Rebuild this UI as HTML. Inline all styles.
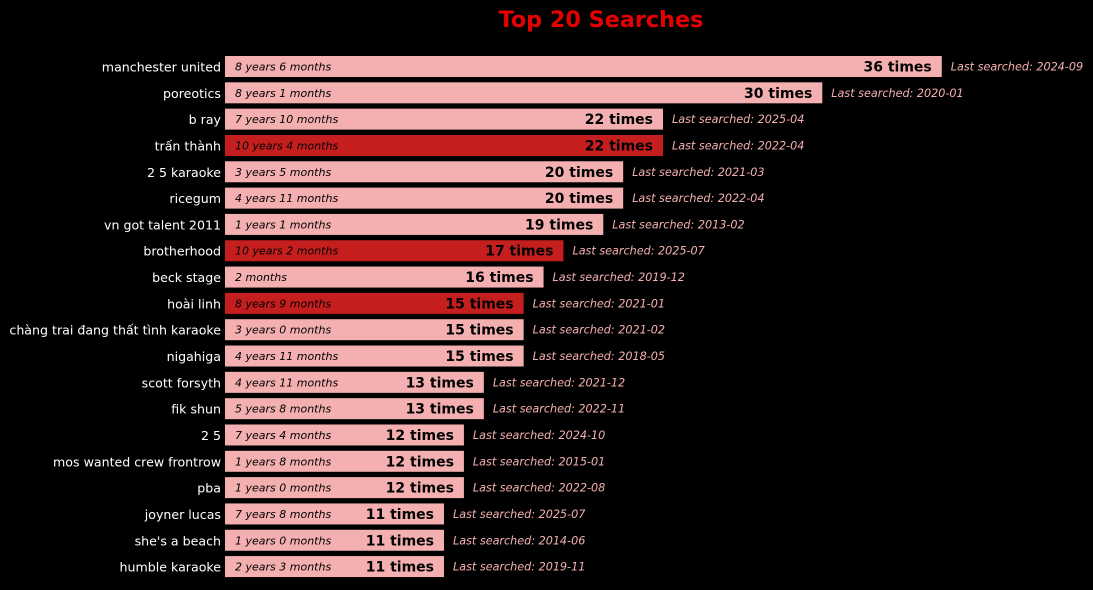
<!DOCTYPE html>
<html><head><meta charset="utf-8"><style>
html,body{margin:0;padding:0;background:#000;width:1093px;height:590px;overflow:hidden}
svg{display:block;font-family:"DejaVu Sans","Liberation Sans","Noto Sans CJK SC",sans-serif}
</style></head><body>
<svg id="chart" width="1093" height="590">
<text x="601" y="27" text-anchor="middle" fill="#e60000" font-size="22.3" font-weight="bold">Top 20 Searches</text>
</svg>
<script>
const categories=["manchester united","poreotics","b ray","trấn thành","2 5 karaoke","ricegum","vn got talent 2011","brotherhood","beck stage","hoài linh","chàng trai đang thất tình karaoke","nigahiga","scott forsyth","fik shun","2 5","mos wanted crew frontrow","pba","joyner lucas","she's a beach","humble karaoke"];
const counts=[36,30,22,22,20,20,19,17,16,15,15,15,13,13,12,12,12,11,11,11];
const durations=["8 years 6 months","8 years 1 months","7 years 10 months","10 years 4 months","3 years 5 months","4 years 11 months","1 years 1 months","10 years 2 months","2 months","8 years 9 months","3 years 0 months","4 years 11 months","4 years 11 months","5 years 8 months","7 years 4 months","1 years 8 months","1 years 0 months","7 years 8 months","1 years 0 months","2 years 3 months"];
const lastSearched=["2024-09","2020-01","2025-04","2022-04","2021-03","2022-04","2013-02","2025-07","2019-12","2021-01","2021-02","2018-05","2021-12","2022-11","2024-10","2015-01","2022-08","2025-07","2014-06","2019-11"];
const highlighted=[false,false,false,true,false,false,false,true,false,true,false,false,false,false,false,false,false,false,false,false];
const svg=document.getElementById('chart');
const NS='http://www.w3.org/2000/svg';
const x0=225,pxPer=19.91;
const xs=v=>x0+v*pxPer;
const yc=i=>66.5+i*26.32;
function mk(tag,attrs,text){const e=document.createElementNS(NS,tag);for(const k in attrs)e.setAttribute(k,attrs[k]);if(text!==undefined)e.textContent=text;svg.appendChild(e);return e;}
categories.forEach((c,i)=>{
  const y=yc(i),xe=xs(counts[i]);
  const lab=mk('text',{x:221,y:y+5,'text-anchor':'end',fill:'#fff','font-size':12.6},c);
  
  
  const r=mk('rect',{x:x0,y:y-10.5,width:xe-x0,height:21,fill:highlighted[i]?'#c41e1e':'#f4b0b0'});
  
  
  const d=mk('text',{x:235,y:y+4,fill:'#000','font-size':11,'font-style':'italic'},durations[i]);
  
  
  const v=mk('text',{x:xe-10,y:y+5,'text-anchor':'end',fill:'#000','font-size':14,'font-weight':'bold'},counts[i]+' times');
  
  
  const l=mk('text',{x:xe+9,y:y+4,fill:'#f4b0b0','font-size':11.2,'font-style':'italic'},'Last searched: '+lastSearched[i]);
  
  
});
</script>
</body></html>
